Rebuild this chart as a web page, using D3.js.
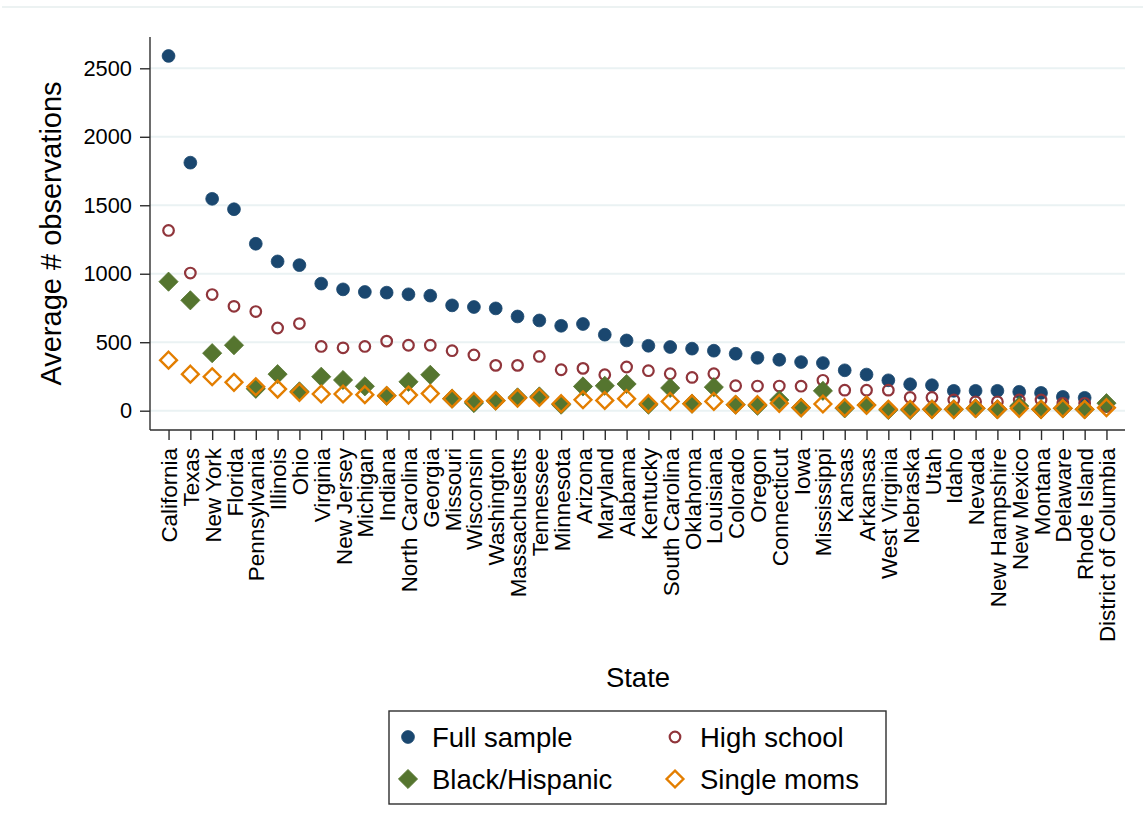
<!DOCTYPE html>
<html>
<head>
<meta charset="utf-8">
<script src="https://cdn.jsdelivr.net/npm/d3@7"></script>
<style>
  html, body { margin: 0; padding: 0; background: #fff; }
  svg { display: block; font-family: "Liberation Sans", Arial, sans-serif; }
</style>
</head>
<body>
<svg id="chart" width="1143" height="838"></svg>
<script>
// States, ordered by full-sample size
const states = [
  "California", "Texas", "New York", "Florida", "Pennsylvania", "Illinois", "Ohio",
  "Virginia", "New Jersey", "Michigan", "Indiana", "North Carolina", "Georgia",
  "Missouri", "Wisconsin", "Washington", "Massachusetts", "Tennessee", "Minnesota",
  "Arizona", "Maryland", "Alabama", "Kentucky", "South Carolina", "Oklahoma",
  "Louisiana", "Colorado", "Oregon", "Connecticut", "Iowa", "Mississippi", "Kansas",
  "Arkansas", "West Virginia", "Nebraska", "Utah", "Idaho", "Nevada",
  "New Hampshire", "New Mexico", "Montana", "Delaware", "Rhode Island",
  "District of Columbia"
];

// Average number of observations per state, by sample
const fullSample = [
  2590, 1811, 1547, 1471, 1219, 1090, 1063, 928, 886, 867, 862, 850, 840,
  769, 757, 747, 688, 659, 620, 633, 555, 513, 474, 465, 453, 438, 416, 386,
  372, 355, 348, 295, 264, 222, 193, 186, 145, 145, 145, 138, 130, 101, 94, 50
];
const highSchool = [
  1316, 1005, 848, 762, 724, 604, 636, 469, 459, 469, 508, 478, 478,
  438, 407, 331, 331, 396, 299, 309, 263, 319, 292, 270, 243, 270, 182, 180,
  180, 179, 222, 150, 150, 150, 97, 97, 78, 65, 65, 78, 78, 54, 54, 30
];
const blackHispanic = [
  942, 806, 420, 478, 160, 267, 141, 248, 224, 178, 109, 211, 262,
  88, 56, 73, 97, 104, 44, 177, 182, 195, 44, 166, 51, 172, 44, 36,
  78, 22, 145, 17, 41, 5, 5, 10, 10, 17, 10, 34, 10, 17, 10, 55
];
const singleMoms = [
  369, 267, 248, 207, 175, 158, 134, 122, 122, 117, 109, 114, 125,
  88, 68, 73, 92, 97, 51, 80, 75, 88, 51, 68, 51, 68, 44, 44,
  54, 22, 49, 22, 41, 10, 10, 10, 10, 17, 10, 17, 10, 17, 10, 22
];

const yTicks = [0, 500, 1000, 1500, 2000, 2500];

const colors = {
  navy: "#1a476f",
  maroon: "#90353b",
  green: "#55752f",
  orange: "#e37e00"
};

const series = [
  { name: "Full sample", values: fullSample, shape: "circle", filled: true, color: colors.navy },
  { name: "High school", values: highSchool, shape: "circle", filled: false, color: colors.maroon },
  { name: "Black/Hispanic", values: blackHispanic, shape: "diamond", filled: true, color: colors.green },
  { name: "Single moms", values: singleMoms, shape: "diamond", filled: false, color: colors.orange }
];

const svg = d3.select("#chart");
const plot = { left: 150, right: 1125, top: 37, bottom: 430 };

// thin rule along the top edge of the graph region
svg.append("line")
  .attr("x1", 2).attr("x2", 1143).attr("y1", 7).attr("y2", 7)
  .attr("stroke", "#e6eeee").attr("stroke-width", 1.5);

const x = d3.scalePoint()
  .domain(states)
  .range([plot.left, plot.right])
  .padding(0.85);

const y = d3.scaleLinear()
  .domain([-140.9, 2728.5])
  .range([plot.bottom, plot.top]);

// gridlines
svg.append("g")
  .selectAll("line")
  .data(yTicks)
  .join("line")
  .attr("x1", plot.left).attr("x2", plot.right)
  .attr("y1", d => y(d)).attr("y2", d => y(d))
  .attr("stroke", "#eaf2f3").attr("stroke-width", 2);

// y axis
const yAxis = svg.append("g")
  .attr("transform", `translate(${plot.left},0)`)
  .call(d3.axisLeft(y).tickValues(yTicks).tickFormat(d3.format("d")).tickSize(10).tickPadding(8).tickSizeOuter(0));
yAxis.select(".domain").attr("stroke", "#2e2e2e").attr("stroke-width", 1.4)
  .attr("d", `M0,${plot.top}V${plot.bottom}`);
yAxis.selectAll(".tick line").attr("stroke", "#2e2e2e").attr("stroke-width", 1.4);
yAxis.selectAll(".tick text").attr("font-size", 21.8).attr("fill", "#000")
  .attr("font-family", "'Liberation Sans', Arial, sans-serif");

// x axis
const xAxis = svg.append("g")
  .attr("transform", `translate(0,${plot.bottom})`)
  .call(d3.axisBottom(x).tickSize(10).tickSizeOuter(0));
xAxis.select(".domain").attr("stroke", "#2e2e2e").attr("stroke-width", 1.4)
  .attr("d", `M${plot.left},0H${plot.right}`);
xAxis.selectAll(".tick line").attr("stroke", "#2e2e2e").attr("stroke-width", 1.4);
xAxis.selectAll(".tick text")
  .attr("font-size", 22.4).attr("fill", "#000")
  .attr("font-family", "'Liberation Sans', Arial, sans-serif")
  .attr("text-anchor", "end")
  .attr("transform", "rotate(-90)")
  .attr("x", -18).attr("y", 0).attr("dy", "0.36em");

// axis titles
svg.append("text")
  .attr("transform", `translate(61,${(plot.top + plot.bottom) / 2}) rotate(-90)`)
  .attr("text-anchor", "middle")
  .attr("font-size", 29).attr("fill", "#000")
  .text("Average # observations");

svg.append("text")
  .attr("x", 638).attr("y", 687)
  .attr("text-anchor", "middle")
  .attr("font-size", 27.5).attr("fill", "#000")
  .text("State");

// marker drawing
const circleR = { filled: 6.4, hollow: 5.3 };
const diamondR = { filled: 9.6, hollow: 8.4 };

function drawMarker(g, s, cx, cy) {
  if (s.shape === "circle") {
    g.append("circle")
      .attr("cx", cx).attr("cy", cy)
      .attr("r", s.filled ? circleR.filled : circleR.hollow)
      .attr("fill", s.filled ? s.color : "none")
      .attr("stroke", s.color)
      .attr("stroke-width", s.filled ? 0.8 : 2.2);
  } else {
    const r = s.filled ? diamondR.filled : diamondR.hollow;
    g.append("path")
      .attr("d", `M${cx},${cy - r}L${cx + r},${cy}L${cx},${cy + r}L${cx - r},${cy}Z`)
      .attr("fill", s.filled ? s.color : "none")
      .attr("stroke", s.color)
      .attr("stroke-width", s.filled ? 0.8 : 2.4)
      .attr("stroke-linejoin", "miter");
  }
}

const marks = svg.append("g");
series.forEach(s => {
  const g = marks.append("g").attr("class", "series");
  s.values.forEach((v, i) => drawMarker(g, s, x(states[i]), y(v)));
});

// legend
const legend = svg.append("g");
legend.append("rect")
  .attr("x", 389).attr("y", 711).attr("width", 497).attr("height", 93)
  .attr("fill", "#fff").attr("stroke", "#2e2e2e").attr("stroke-width", 1.4);

const legendPos = [
  { mx: 408, tx: 432, cy: 737 },
  { mx: 675, tx: 700, cy: 737 },
  { mx: 408, tx: 432, cy: 779 },
  { mx: 675, tx: 700, cy: 779 }
];
series.forEach((s, i) => {
  const p = legendPos[i];
  drawMarker(legend, s, p.mx, p.cy);
  legend.append("text")
    .attr("x", p.tx).attr("y", p.cy).attr("dy", "0.36em")
    .attr("font-size", 27.5).attr("fill", "#000")
    .text(s.name);
});
</script>
</body>
</html>
